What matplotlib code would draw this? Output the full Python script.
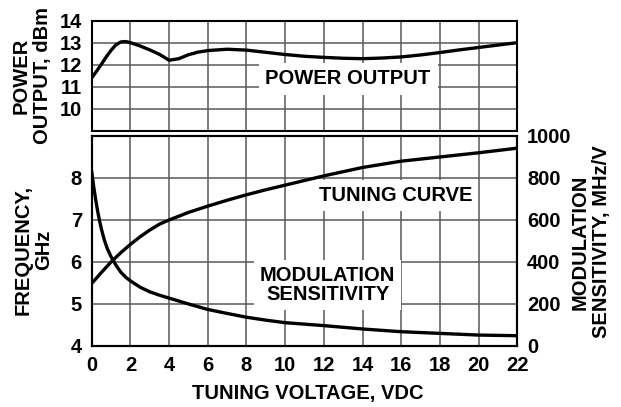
import matplotlib.pyplot as plt
from matplotlib import font_manager
from matplotlib.font_manager import FontProperties

# power output vs tuning voltage (top panel)
power_v = [0, 0.25, 0.5, 0.75, 1, 1.25, 1.5, 1.75, 2, 2.5, 3, 3.5, 4, 4.5, 5, 5.5, 6, 7, 8, 9, 10, 11, 12, 13,
           14, 15, 16, 17, 18, 19, 20, 21, 22]
power_dbm = [11.4, 11.7, 12.02, 12.35, 12.65, 12.9, 13.03, 13.05, 13.0, 12.85, 12.67, 12.47, 12.2, 12.27, 12.45,
             12.57, 12.64, 12.7, 12.66, 12.56, 12.46, 12.38, 12.33, 12.29, 12.27, 12.3, 12.35, 12.44, 12.55, 12.67,
             12.78, 12.89, 13.0]

# tuning curve (left axis, GHz)
tune_v = [0, 0.5, 1, 1.5, 2, 2.5, 3, 3.5, 4, 5, 6, 7, 8, 9, 10, 11, 12, 14, 16, 18, 20, 22]
freq_ghz = [5.49, 5.75, 6.0, 6.22, 6.42, 6.6, 6.76, 6.9, 7.0, 7.18, 7.33, 7.47, 7.6, 7.72, 7.83, 7.94, 8.05, 8.25,
            8.4, 8.5, 8.6, 8.71]

# modulation sensitivity (right axis, MHz/V)
mod_v = [0, 0.1, 0.2, 0.3, 0.4, 0.5, 0.65, 0.8, 1, 1.25, 1.5, 1.75, 2, 2.5, 3, 3.5, 4, 5, 6, 7, 8, 9, 10, 12, 14,
         16, 18, 20, 22]
mod_sens = [830, 760, 700, 645, 598, 557, 505, 465, 425, 385, 352, 328, 310, 280, 258, 242, 228, 200, 174, 155,
            137, 123, 111, 97, 81, 68, 60, 52, 49]

x_ticks = list(range(0, 23, 2))
power_ticks = [10, 11, 12, 13, 14]
freq_ticks = [4, 5, 6, 7, 8]
sens_ticks = [0, 200, 400, 600, 800, 1000]

fs = 14.5
lw = 2.4

# point straight at the bold file
bold_files = [f.fname for f in font_manager.fontManager.ttflist if f.fname.endswith('LiberationSans-Bold.ttf')]
if bold_files:
    fp = FontProperties(fname=bold_files[0], size=fs)
else:
    fp = FontProperties(family='DejaVu Sans', weight='bold', size=fs - 1)

fig = plt.figure(figsize=(6.21, 4.07), dpi=100)
ax1 = fig.add_axes([0.1477, 0.679, 0.6853, 0.2703])
ax2 = fig.add_axes([0.1477, 0.1499, 0.6853, 0.516])
ax3 = ax2.twinx()

grid_kw = dict(color='#595959', linewidth=1.1)
box = dict(facecolor='white', edgecolor='none', pad=4)

# top panel
ax1.plot(power_v, power_dbm, color='black', linewidth=lw, zorder=3)
ax1.set_xlim(0, 22)
ax1.set_ylim(9, 14)
ax1.set_xticks(x_ticks)
ax1.set_yticks([9] + power_ticks)
ax1.set_yticklabels([''] + [str(t) for t in power_ticks])
ax1.set_xticklabels([])
ax1.grid(True, **grid_kw)
ax1.set_axisbelow(True)
ax1.text(13.25, 11.35, "POWER OUTPUT", fontproperties=fp, ha='center', va='center',
         bbox=dict(facecolor='white', edgecolor='none', pad=5), zorder=2)

# bottom panel
ax2.plot(tune_v, freq_ghz, color='black', linewidth=lw, zorder=3)
ax2.set_xlim(0, 22)
ax2.set_ylim(4, 9)
ax2.set_xticks(x_ticks)
ax2.set_xticklabels([str(t) for t in x_ticks])
ax2.set_yticks(freq_ticks + [9])
ax2.set_yticklabels([str(t) for t in freq_ticks] + [''])
ax2.grid(True, **grid_kw)
ax2.set_axisbelow(True)
ax2.text(15.7, 7.58, "TUNING CURVE", fontproperties=fp, ha='center', va='center', bbox=box, zorder=2)
ax2.text(12.2, 5.45, "MODULATION\nSENSITIVITY", fontproperties=fp, ha='center', va='center',
         linespacing=1.05, bbox=box, zorder=2)

ax3.plot(mod_v, mod_sens, color='black', linewidth=lw)
ax3.set_ylim(0, 1000)
ax3.set_yticks(sens_ticks)
ax3.set_yticklabels([str(t) for t in sens_ticks])

for ax in (ax1, ax2, ax3):
    ax.tick_params(length=0, pad=7)
    for lab in ax.get_xticklabels() + ax.get_yticklabels():
        lab.set_fontproperties(fp)
    for s in ax.spines.values():
        s.set_linewidth(1.5)
        s.set_color('black')

# axis titles placed in figure fractions
fig.text(0.051, 0.814, "POWER\nOUTPUT, dBm", fontproperties=fp, rotation=90, ha='center', va='center',
         multialignment='center', linespacing=1.12)
fig.text(0.054, 0.386, "FREQUENCY,\nGHz", fontproperties=fp, rotation=90, ha='center', va='center',
         multialignment='center', linespacing=1.12)
fig.text(0.951, 0.405, "MODULATION\nSENSITIVITY, MHz/V", fontproperties=fp, rotation=90, ha='center',
         va='center', multialignment='center', linespacing=1.18)
fig.text(0.495, 0.034, "TUNING VOLTAGE, VDC", fontproperties=fp, ha='center', va='center')

fig.savefig("out.png", dpi=100)
